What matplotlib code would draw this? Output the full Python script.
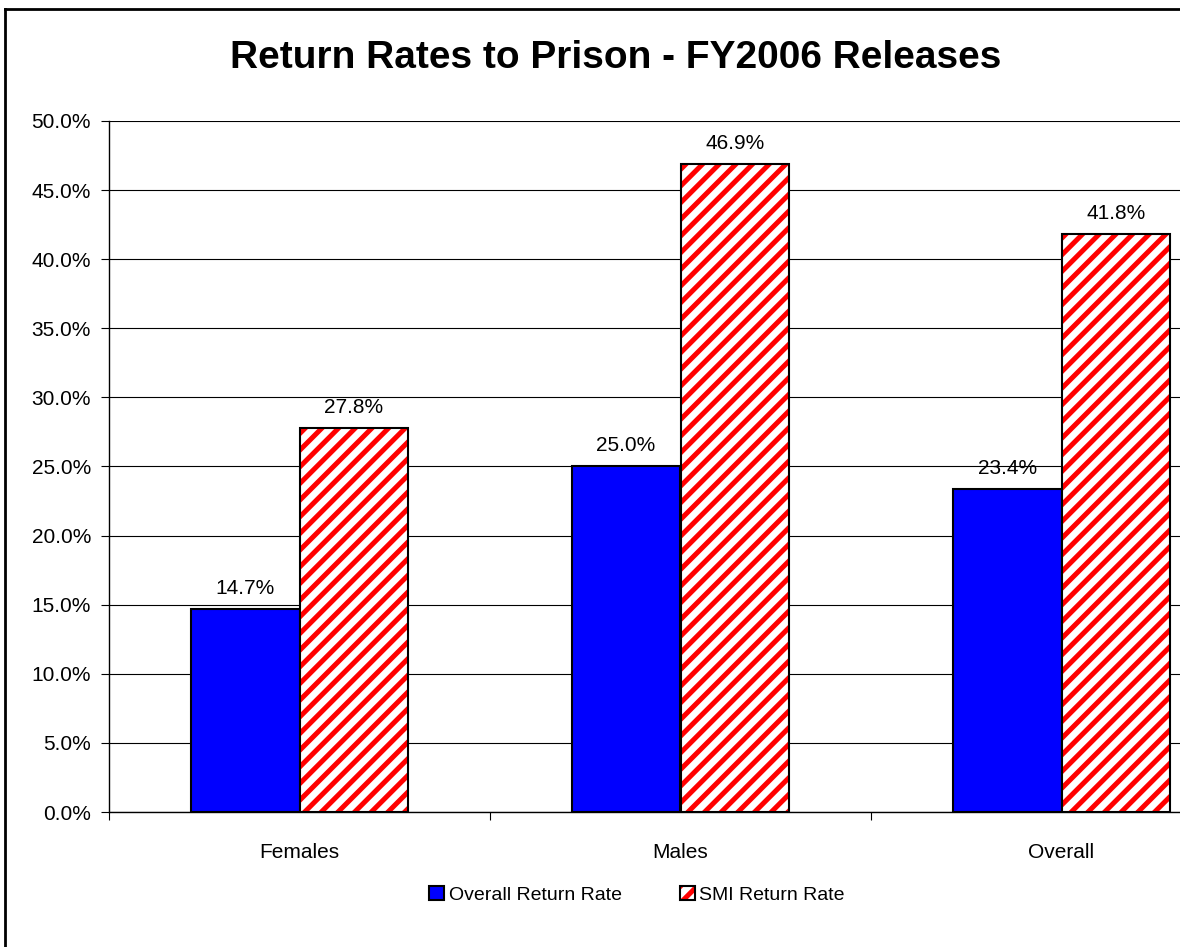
import numpy as np
import matplotlib
matplotlib.use("Agg")
import matplotlib.pyplot as plt
from matplotlib.patches import Patch
from matplotlib.lines import Line2D
from matplotlib.legend_handler import HandlerTuple

plt.rcParams['font.family'] = ['Liberation Sans', 'DejaVu Sans']
plt.rcParams['hatch.linewidth'] = 3.6

categories = ['Females', 'Males', 'Overall']
overall_rate = [0.147, 0.250, 0.234]
smi_rate = [0.278, 0.469, 0.418]
series_names = ['Overall Return Rate', 'SMI Return Rate']
yticks = np.arange(0, 0.501, 0.05)

W, H = 1180, 947
fig = plt.figure(figsize=(W / 100, H / 100), dpi=100)
# plot area runs off the right edge like the original screenshot
ax = fig.add_axes([109 / W, 1 - 812 / H, (1252 - 109) / W, (812 - 121) / H])

x = np.arange(len(categories)) + 0.5
w = 1 / 3.5

ax.bar(x - w / 2, overall_rate, w, color='#0000ff', edgecolor='black', linewidth=1.5, zorder=3)
ax.bar(x + w / 2, smi_rate, w, color='white', edgecolor='red', hatch='//', linewidth=0, zorder=3)
ax.bar(x + w / 2, smi_rate, w, fill=False, edgecolor='black', linewidth=1.5, zorder=4)

for xi, v in zip(x - w / 2, overall_rate):
    ax.annotate(f'{v:.1%}', (xi, v), xytext=(0, 8), textcoords='offset points',
                ha='center', va='bottom', fontsize=15)
for xi, v in zip(x + w / 2, smi_rate):
    ax.annotate(f'{v:.1%}', (xi, v), xytext=(0, 8), textcoords='offset points',
                ha='center', va='bottom', fontsize=15)

ax.set_xlim(0, len(categories))
ax.set_ylim(0, 0.5)
ax.set_yticks(yticks)
ax.set_yticklabels([f'{t:.1%}' for t in yticks], fontsize=15)
ax.yaxis.grid(True, color='black', linewidth=0.8, zorder=0)
ax.set_axisbelow(True)

ax.set_xticks(np.arange(len(categories) + 1))
ax.set_xticklabels([])
ax.set_xticks(x, minor=True)
ax.set_xticklabels(categories, minor=True, fontsize=15)
ax.tick_params(axis='x', which='minor', length=0, pad=22)
ax.tick_params(axis='x', which='major', length=6, width=0.8, direction='out')
ax.tick_params(axis='y', length=6, width=0.8, direction='out', pad=7)

for s in ['top', 'right']:
    ax.spines[s].set_visible(False)
for s in ['left', 'bottom']:
    ax.spines[s].set_linewidth(1.0)
    ax.spines[s].set_color('black')

fig.text(616 / W, 1 - 58 / H, 'Return Rates to Prison - FY2006 Releases',
         ha='center', va='center', fontsize=28, fontweight='bold')

blue_h = Patch(facecolor='#0000ff', edgecolor='black', linewidth=1.5)
smi_h = (Patch(facecolor='white', edgecolor='red', hatch='//', linewidth=0),
         Patch(fill=False, edgecolor='black', linewidth=1.5))
leg = fig.legend([blue_h, smi_h], series_names, loc='center', bbox_to_anchor=(637 / W, 1 - 895 / H),
                 ncol=2, frameon=False, fontsize=14, handlelength=0.75, handleheight=0.75,
                 handletextpad=0.25, columnspacing=3.0,
                 handler_map={tuple: HandlerTuple(ndivide=1)})

# chart border (left and top visible)
fig.add_artist(Line2D([5 / W, 5 / W], [0, 1 - 9 / H], color='black', linewidth=2))
fig.add_artist(Line2D([5 / W, 1], [1 - 9 / H, 1 - 9 / H], color='black', linewidth=2))

fig.savefig('out.png', dpi=100)
